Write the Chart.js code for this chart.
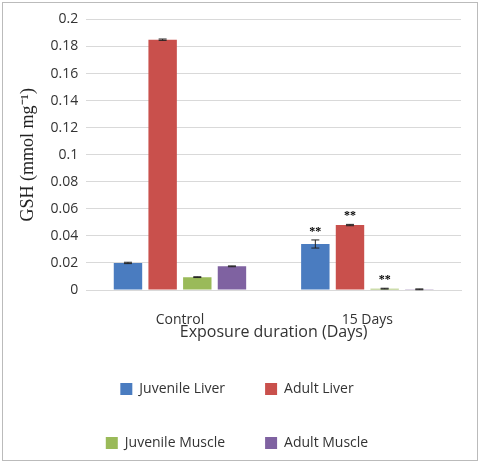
<!DOCTYPE html><html><head><script src="https://cdn.jsdelivr.net/npm/chart.js@4"></script>
<style>body{margin:0;background:#fff}#w{position:absolute;left:2px;top:2px;width:474px;height:457px;border:1px solid #bbb}</style></head><body><div id="w"><canvas id="c"></canvas></div>
<script>
const categories=["Control","15 Days"];
const seriesNames=["Juvenile Liver","Adult Liver","Juvenile Muscle","Adult Muscle"];
const juvLiver=[0.020,0.034], adLiver=[0.185,0.048], juvMuscle=[0.0095,0.001], adMuscle=[0.0175,0.0005];
const juvLiverErr=[0.0005,0.003], adLiverErr=[0.0005,0.0005], juvMuscleErr=[0.0003,0.0003], adMuscleErr=[0.0003,0.0003];
const stars=[[false,true],[false,true],[false,true],[false,false]];
const colors=["#4a7cc0","#c9504c","#9aba59","#7f62a1"];
const vals=[juvLiver,adLiver,juvMuscle,adMuscle], errs=[juvLiverErr,adLiverErr,juvMuscleErr,adMuscleErr];
const plug={id:'eb',afterDatasetsDraw(ch){const c=ch.ctx,y=ch.scales.y;c.save();
ch.data.datasets.forEach((d,i)=>{ch.getDatasetMeta(i).data.forEach((b,j)=>{const v=vals[i][j],e=errs[i][j];
const t=y.getPixelForValue(v+e),bt=y.getPixelForValue(v-e);c.strokeStyle='#222';c.lineWidth=1;c.beginPath();
c.moveTo(b.x,t);c.lineTo(b.x,bt);c.moveTo(b.x-4,t);c.lineTo(b.x+4,t);c.moveTo(b.x-4,bt);c.lineTo(b.x+4,bt);c.stroke();
if(stars[i][j]){c.fillStyle='#000';c.font='bold 12px "Liberation Serif"';c.textAlign='center';c.fillText('**',b.x,t-8);}});});c.restore();}};
new Chart(document.getElementById('c'),{type:'bar',plugins:[plug],
data:{labels:categories,datasets:seriesNames.map((n,i)=>({label:n,data:vals[i],backgroundColor:colors[i],categoryPercentage:0.74,barPercentage:0.82}))},
options:{responsive:true,maintainAspectRatio:false,animation:false,
layout:{padding:{top:14,right:16,left:10,bottom:0}},
scales:{y:{min:0,max:0.2,ticks:{stepSize:0.02,color:'#333',font:{family:'Open Sans',size:14},padding:8,callback:v=>+v.toFixed(2)},grid:{color:'#d9d9d9',drawTicks:false},border:{display:false},
title:{display:true,text:'GSH (mmol mg⁻¹)',color:'#222',font:{family:'Liberation Serif',size:18}}},
x:{grid:{display:false},border:{color:'#d9d9d9'},ticks:{color:'#333',font:{family:'Open Sans',size:14},padding:14},
title:{display:true,text:'Exposure duration (Days)',color:'#333',font:{family:'Open Sans',size:16},padding:{top:-20,bottom:0}}}},
plugins:{legend:{position:'bottom',align:'center',labels:{boxWidth:12,boxHeight:12,color:'#333',font:{family:'Open Sans',size:14},padding:40}},tooltip:{enabled:false}}}});
</script></body></html>
